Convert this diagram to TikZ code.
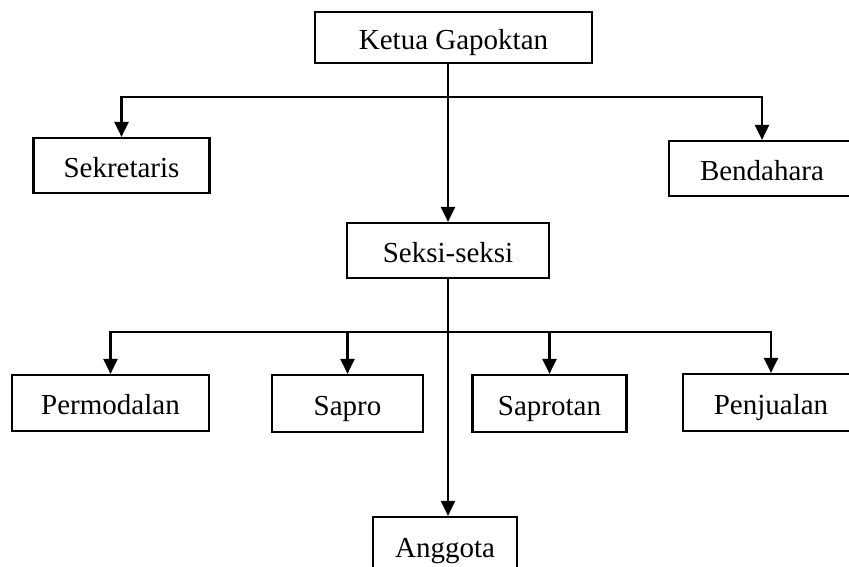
\documentclass[tikz,border=0pt]{standalone}
\usepackage{fontspec}
\setmainfont{Liberation Serif}
\usetikzlibrary{arrows.meta}
\tikzset{
  orgbox/.style={draw, line width=2.2pt, inner sep=0pt, text height=23pt, text depth=0pt,
    font=\fontsize{29}{34}\selectfont},
  arr/.style={line width=2.2pt, -{Triangle[length=15pt,width=14pt]}},
  ln/.style={line width=2.2pt}
}
\begin{document}
\begin{tikzpicture}[x=1pt,y=-1pt]
\useasboundingbox (0,0) rectangle (849,566);
\clip (0,0) rectangle (849,566);
\node[orgbox, minimum width=277pt, minimum height=51pt] (ketua) at (453.5,37.5) {Ketua Gapoktan};
\node[orgbox, minimum width=176pt, minimum height=55pt] (sek) at (121.5,165.5) {Sekretaris};
\node[orgbox, minimum width=186pt, minimum height=55pt] (ben) at (762,168.5) {Bendahara};
\node[orgbox, minimum width=202pt, minimum height=55pt] (seksi) at (448,250.5) {Seksi-seksi};
\node[orgbox, minimum width=197pt, minimum height=56pt] (perm) at (110.5,403) {Permodalan};
\node[orgbox, minimum width=151pt, minimum height=57pt] (sapro) at (347.5,403.5) {Sapro};
\node[orgbox, minimum width=154pt, minimum height=57pt] (saprotan) at (549.5,403.5) {Saprotan};
\node[orgbox, minimum width=176pt, minimum height=57pt] (penj) at (771,402.5) {Penjualan};
\node[orgbox, minimum width=144pt, minimum height=58pt] (angg) at (445,546) {Anggota};
\coordinate (j1) at (448,97);
\coordinate (j2) at (448,332);
\draw[arr] (seksi.north |- ketua.south) -- (seksi.north);
\draw[arr] (j1) -| (sek.north);
\draw[arr] (j1) -| (ben.north);
\draw[arr] (seksi.south) -- (seksi.south |- angg.north);
\draw[arr] (j2) -| (perm.north);
\draw[arr] (j2) -| (sapro.north);
\draw[arr] (j2) -| (saprotan.north);
\draw[arr] (j2) -| (penj.north);
\end{tikzpicture}
\end{document}
